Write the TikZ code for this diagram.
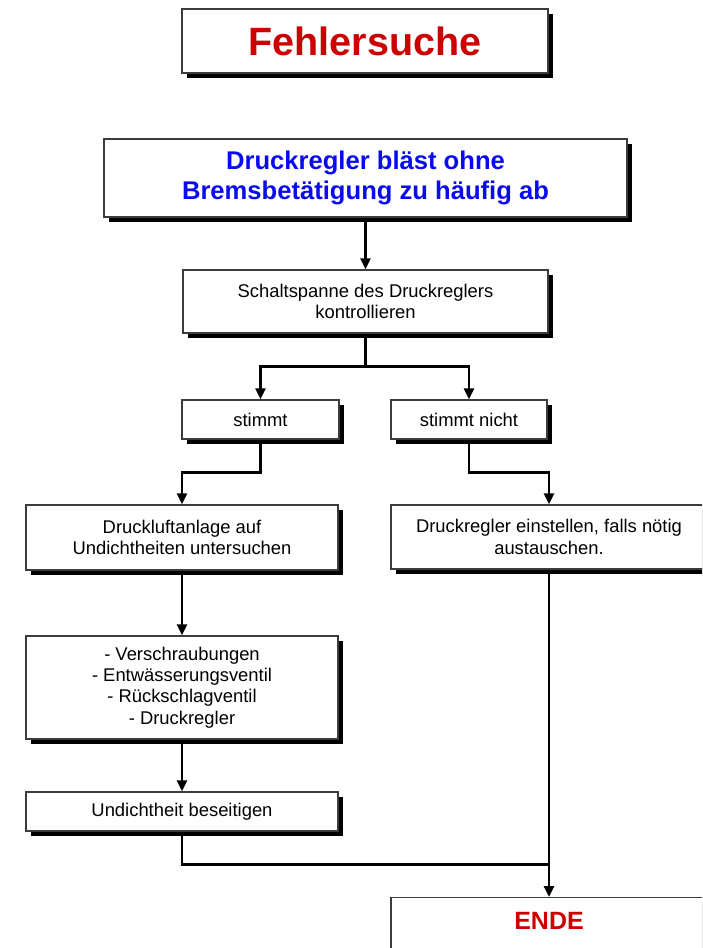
\documentclass[tikz,border=0pt]{standalone}
\usepackage{fontspec}
\setmainfont{Liberation Sans}
\usetikzlibrary{arrows.meta,shadows}
\definecolor{titlered}{RGB}{204,0,0}
\definecolor{headblue}{RGB}{10,10,240}
\definecolor{frame}{RGB}{60,60,60}
\begin{document}
\begin{tikzpicture}[x=1pt,y=-1pt,
  box/.style={rectangle, draw=frame, line width=1.3pt, fill=white, align=center,
    inner sep=0pt,
    general shadow={fill=black, shadow xshift=4.5pt, shadow yshift=-4.5pt},
    font=\fontsize{18.4}{21.2}\selectfont},
  flow/.style={line width=2.8pt, draw=black},
  arr/.style={flow, -{Triangle[length=11pt,width=10pt]}},
]
\path[use as bounding box] (0,0) rectangle (702,948);
\clip (0,0) rectangle (702,948);

% boxes
\node[box, minimum width=366pt, minimum height=64pt,
      font=\fontsize{39.5}{44}\selectfont\bfseries, text=titlered]
  (title) at (365,41) {Fehlersuche};

\node[box, minimum width=523pt, minimum height=78pt,
      font=\fontsize{25.6}{30}\selectfont\bfseries, text=headblue]
  (problem) at (365.5,178) {Druckregler bläst ohne\\Bremsbetätigung zu häufig ab};

\node[box, minimum width=365pt, minimum height=63pt]
  (schalt) at (365.5,301.5) {Schaltspanne des Druckreglers\\kontrollieren};

\node[box, minimum width=157pt, minimum height=39pt]
  (ok) at (260.5,419.5) {stimmt};
\node[box, minimum width=156pt, minimum height=39pt]
  (notok) at (469,419.5) {stimmt nicht};

\node[box, minimum width=312pt, minimum height=65pt]
  (luft) at (182,537.5) {Druckluftanlage auf\\Undichtheiten untersuchen};
\node[box, minimum width=316pt, minimum height=64pt]
  (regler) at (549,537) {Druckregler einstellen, falls nötig\\austauschen.};

\node[box, minimum width=312pt, minimum height=103pt]
  (teile) at (182,687.5) {- Verschraubungen\\- Entwässerungsventil\\- Rückschlagventil\\- Druckregler};

\node[box, minimum width=312pt, minimum height=39pt]
  (dicht) at (182,811.5) {Undichtheit beseitigen};

\node[box, anchor=north, minimum width=316pt, inner ysep=14pt,
      text height=18pt, text depth=70pt,
      font=\fontsize{25}{30}\selectfont\bfseries, text=titlered]
  (ende) at (549,897) {ENDE};

% connectors
\draw[arr] (problem.south) -- (schalt.north);

\path (schalt.south) ++(0,33) coordinate (split);
\draw[flow] (schalt.south) -- (split);
\draw[arr] (split) -| (ok.north);
\draw[arr] (split) -| (notok.north);

\draw[arr] (ok.south) -- ++(0,33) -| (luft.north);
\draw[arr] (notok.south) -- ++(0,33) -| (regler.north);

\draw[arr] (luft.south) -- (teile.north);
\draw[arr] (teile.south) -- (dicht.north);

\path (dicht.south) ++(0,33) coordinate (bend);
\coordinate (join) at (regler.south |- bend);
\draw[flow] (dicht.south) |- (join);
\draw[arr] (regler.south) -- (ende.north);
\end{tikzpicture}
\end{document}
